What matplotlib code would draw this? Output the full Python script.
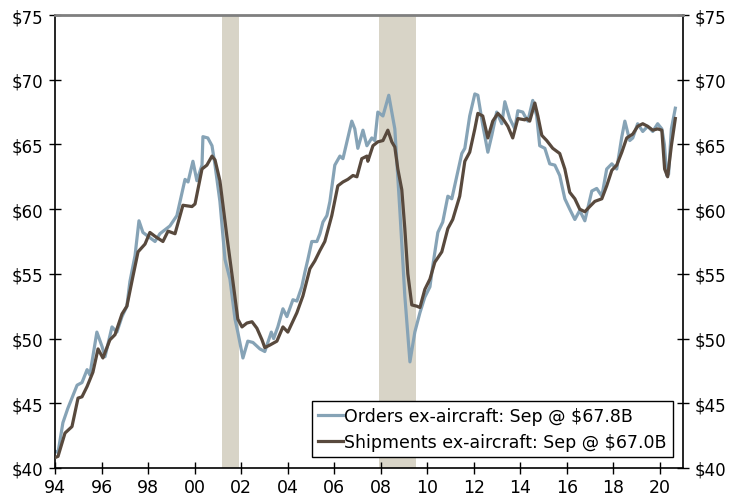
import numpy as np
import matplotlib.pyplot as plt
import matplotlib

# 耐用品订单 / 出货（不含飞机），十亿美元
matplotlib.rcParams['font.family'] = ['DejaVu Sans']
matplotlib.rcParams['font.size'] = 12

# 订单：时间（小数年）和数值
orders_t = [1994.0, 1994.13, 1994.34, 1994.55, 1994.95, 1995.16, 1995.38, 1995.5, 1995.8, 1996.02,
            1996.15, 1996.45, 1996.66, 1996.88, 1997.09, 1997.22, 1997.44, 1997.61, 1997.78, 1998.0,
            1998.3, 1998.51, 1998.94, 1999.24, 1999.59, 1999.72, 1999.93, 2000.1, 2000.32, 2000.36,
            2000.57, 2000.75, 2000.88, 2001.09, 2001.31, 2001.52, 2001.74, 2001.86, 2002.08, 2002.29,
            2002.51, 2002.81, 2003.02, 2003.3, 2003.4, 2003.58, 2003.8, 2003.97, 2004.23, 2004.4,
            2004.61, 2004.74, 2004.87, 2005.04, 2005.26, 2005.39, 2005.52, 2005.69, 2005.82, 2006.03,
            2006.25, 2006.38, 2006.59, 2006.76, 2006.89, 2007.02, 2007.24, 2007.41, 2007.62, 2007.75,
            2007.88, 2008.1, 2008.35, 2008.61, 2008.83, 2009.04, 2009.26, 2009.47, 2009.69, 2009.9,
            2010.12, 2010.24, 2010.46, 2010.67, 2010.89, 2011.06, 2011.28, 2011.49, 2011.62, 2011.83,
            2012.05, 2012.18, 2012.39, 2012.61, 2012.78, 2012.99, 2013.21, 2013.34, 2013.55, 2013.77,
            2013.9, 2014.11, 2014.2, 2014.33, 2014.54, 2014.71, 2014.84, 2015.06, 2015.27, 2015.49,
            2015.7, 2015.92, 2016.13, 2016.35, 2016.56, 2016.78, 2017.08, 2017.29, 2017.51, 2017.72,
            2017.94, 2018.15, 2018.37, 2018.5, 2018.71, 2018.84, 2019.05, 2019.27, 2019.48, 2019.7,
            2019.91, 2020.09, 2020.2, 2020.3, 2020.38, 2020.5, 2020.67]
orders_v = [41.3, 41.2, 43.5, 44.6, 46.4, 46.6, 47.6, 47.2, 50.5, 49.4,
            48.6, 50.9, 50.5, 51.7, 52.5, 54.4, 56.4, 59.1, 58.2, 57.9,
            57.5, 58.1, 58.7, 59.5, 62.3, 62.1, 63.7, 62.2, 63.4, 65.6,
            65.5, 64.9, 63.4, 60.6, 56.1, 54.6, 51.5, 50.5, 48.5, 49.8,
            49.7, 49.2, 49.0, 50.5, 50.0, 50.9, 52.3, 51.7, 53.0, 52.9,
            54.0, 55.1, 56.1, 57.5, 57.5, 58.1, 59.0, 59.5, 60.6, 63.4,
            64.1, 63.9, 65.5, 66.8, 66.2, 64.7, 66.1, 64.9, 65.5, 65.3,
            67.5, 67.2, 68.8, 66.2, 59.8, 53.3, 48.2, 50.5, 52.0, 53.2,
            54.0, 55.6, 58.2, 59.0, 61.0, 60.8, 62.6, 64.3, 64.7, 67.2,
            68.9, 68.8, 66.5, 64.4, 65.7, 67.5, 66.6, 68.3, 67.0, 66.2,
            67.6, 67.5, 67.2, 66.8, 68.4, 67.2, 64.9, 64.7, 63.5, 63.4,
            62.6, 60.8, 60.0, 59.2, 59.9, 59.1, 61.4, 61.6, 61.0, 63.1,
            63.5, 63.1, 65.6, 66.8, 65.3, 65.5, 66.6, 66.0, 66.4, 66.0,
            66.6, 66.2, 65.0, 62.6, 62.7, 66.2, 67.8]

# 出货
ship_t = [1994.0, 1994.13, 1994.43, 1994.73, 1994.99, 1995.16, 1995.38, 1995.63, 1995.85, 1996.06,
          1996.36, 1996.58, 1996.88, 1997.09, 1997.35, 1997.57, 1997.87, 1998.08, 1998.3, 1998.64,
          1998.86, 1999.16, 1999.5, 1999.89, 2000.02, 2000.32, 2000.53, 2000.75, 2000.88, 2001.09,
          2001.39, 2001.65, 2001.86, 2002.04, 2002.25, 2002.47, 2002.68, 2002.9, 2003.02, 2003.24,
          2003.54, 2003.8, 2004.01, 2004.4, 2004.66, 2004.96, 2005.17, 2005.39, 2005.6, 2005.9,
          2006.16, 2006.38, 2006.59, 2006.81, 2006.98, 2007.19, 2007.41, 2007.45, 2007.67, 2007.88,
          2008.1, 2008.31, 2008.48, 2008.61, 2008.74, 2008.91, 2009.04, 2009.17, 2009.34, 2009.56,
          2009.69, 2009.9, 2010.12, 2010.33, 2010.63, 2010.89, 2011.1, 2011.4, 2011.62, 2011.83,
          2012.05, 2012.18, 2012.39, 2012.61, 2012.82, 2013.04, 2013.25, 2013.47, 2013.68, 2013.9,
          2014.2, 2014.28, 2014.41, 2014.63, 2014.76, 2014.93, 2015.14, 2015.4, 2015.7, 2015.92,
          2016.13, 2016.35, 2016.56, 2016.78, 2016.99, 2017.21, 2017.51, 2017.72, 2017.94, 2018.15,
          2018.37, 2018.58, 2018.84, 2019.05, 2019.27, 2019.48, 2019.7, 2019.91, 2020.09, 2020.21,
          2020.34, 2020.5, 2020.67]
ship_v = [40.8, 40.9, 42.7, 43.2, 45.4, 45.5, 46.3, 47.4, 49.2, 48.5,
          49.9, 50.3, 51.9, 52.5, 54.8, 56.7, 57.3, 58.2, 57.9, 57.5,
          58.3, 58.1, 60.3, 60.2, 60.4, 63.1, 63.4, 64.1, 63.8, 62.2,
          57.9, 54.4, 51.5, 50.9, 51.2, 51.3, 50.8, 49.9, 49.3, 49.5,
          49.8, 50.9, 50.5, 52.0, 53.3, 55.4, 56.0, 56.8, 57.5, 59.5,
          61.8, 62.1, 62.3, 62.6, 62.5, 63.9, 64.1, 63.7, 64.9, 65.2,
          65.3, 66.1, 65.2, 64.8, 63.1, 61.5, 58.5, 55.0, 52.6, 52.5,
          52.4, 53.8, 54.6, 55.9, 56.7, 58.5, 59.2, 61.0, 63.7, 64.4,
          66.2, 67.4, 67.2, 65.5, 66.8, 67.4, 67.0, 66.4, 65.5, 67.0,
          66.9, 67.0, 66.8, 68.2, 67.2, 65.7, 65.3, 64.7, 64.3, 63.1,
          61.3, 60.8, 60.0, 59.8, 60.2, 60.6, 60.8, 61.8, 63.0, 63.4,
          64.4, 65.5, 65.8, 66.4, 66.6, 66.4, 66.1, 66.2, 66.1, 63.1,
          62.5, 64.9, 67.0]

# 经济衰退区间
recessions = [(2001.17, 2001.92), (2007.92, 2009.5)]

year_ticks = list(range(1994, 2021, 2))
year_labels = ['%02d' % (y % 100) for y in year_ticks]
dollar_ticks = list(range(40, 76, 5))

fig = plt.figure(figsize=(7.3, 5.02), dpi=100)
ax1 = fig.add_axes([55 / 730, 33 / 502, 628 / 730, 453 / 502])

for start, end in recessions:
    ax1.axvspan(start, end, color='#d8d4c7', lw=0, zorder=0)

ax1.plot(orders_t, orders_v, color='#86a3b6', lw=2.3, label='Orders ex-aircraft: Sep @ $67.8B', zorder=2)
ax1.plot(ship_t, ship_v, color='#58493d', lw=2.3, label='Shipments ex-aircraft: Sep @ $67.0B', zorder=3)

ax1.set_xlim(1994, 2021)
ax1.set_ylim(40, 75)
ax1.set_xticks(year_ticks)
ax1.set_xticklabels(year_labels)
ax1.set_yticks(dollar_ticks)
ax1.set_yticklabels(['$%d' % v for v in dollar_ticks])

ax1.tick_params(axis='x', direction='inout', length=8, width=1, pad=3, labelsize=12.5)
ax1.tick_params(axis='y', direction='inout', length=9, width=1, pad=4, labelsize=12,
                left=True, right=True, labelleft=True, labelright=True)

ax1.spines['top'].set_color('#7f7f7f')
ax1.spines['top'].set_linewidth(2)
for s in ['left', 'right', 'bottom']:
    ax1.spines[s].set_linewidth(1.2)

leg = ax1.legend(loc='lower right', bbox_to_anchor=(0.984, 0.024), borderaxespad=0,
                 fontsize=12.5, handlelength=1.4, handletextpad=0.1, labelspacing=0.45,
                 borderpad=0.35, frameon=True, fancybox=False, framealpha=1)
leg.get_frame().set_edgecolor('#000000')
leg.get_frame().set_linewidth(1.0)

plt.savefig('out.png', dpi=100)
